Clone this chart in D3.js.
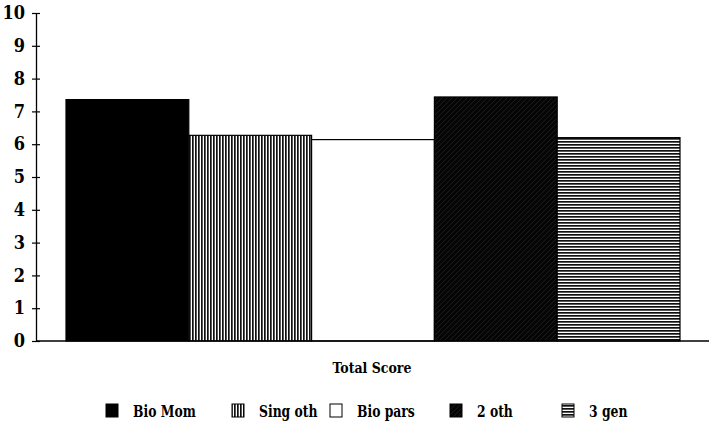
<!DOCTYPE html>
<html><head><meta charset="utf-8">
<script src="https://cdn.jsdelivr.net/npm/d3@7"></script>
<style>body{margin:0;background:#fff}svg{display:block}
svg text{font-family:"DejaVu Serif Condensed","DejaVu Serif",serif !important;font-stretch:condensed;font-weight:bold;fill:#000}</style>
</head><body>
<script>
const categories = ["Total Score"];
const seriesNames = ["Bio Mom", "Sing oth", "Bio pars", "2 oth", "3 gen"];
const seriesValues = [7.36, 6.27, 6.14, 7.44, 6.2];
const yTicks = [0,1,2,3,4,5,6,7,8,9,10];

const W = 709, H = 431;
const svg = d3.select("body").append("svg").attr("width", W).attr("height", H);
const defs = svg.append("defs");
const pv = defs.append("pattern").attr("id","pv").attr("patternUnits","userSpaceOnUse").attr("width",3).attr("height",3);
pv.append("rect").attr("width",3).attr("height",3).attr("fill","#fff");
pv.append("rect").attr("width",1.7).attr("height",3).attr("fill","#111");
const ph = defs.append("pattern").attr("id","ph").attr("patternUnits","userSpaceOnUse").attr("width",3).attr("height",3);
ph.append("rect").attr("width",3).attr("height",3).attr("fill","#fff");
ph.append("rect").attr("width",3).attr("height",1.7).attr("fill","#111");
const pd = defs.append("pattern").attr("id","pd").attr("patternUnits","userSpaceOnUse").attr("width",5).attr("height",5);
pd.append("rect").attr("width",5).attr("height",5).attr("fill","#050505");
pd.append("path").attr("d","M0,5 L5,0").attr("stroke","#333").attr("stroke-width",0.5);

const fills = ["#000", "url(#pv)", "#fff", "url(#pd)", "url(#ph)"];

const y = d3.scaleLinear().domain([0,10]).range([341, 13]);
const x0 = d3.scaleBand().domain(categories).range([66, 680]).padding(0);
const x1 = d3.scaleBand().domain(seriesNames).range([0, x0.bandwidth()]).padding(0);

const g = svg.append("g");
categories.forEach(c => {
  g.selectAll("rect.bar").data(seriesNames).enter().append("rect")
    .attr("x", d => x0(c) + x1(d))
    .attr("y", (d,i) => y(seriesValues[i]))
    .attr("width", x1.bandwidth())
    .attr("height", (d,i) => y(0) - y(seriesValues[i]))
    .attr("fill", (d,i) => fills[i])
    .attr("stroke", "#000").attr("stroke-width", 1.2);
});

svg.append("line").attr("x1", 36).attr("x2", 709).attr("y1", y(0)).attr("y2", y(0)).attr("stroke","#000").attr("stroke-width",1.3);

const ya = svg.append("g").attr("transform","translate(36,0)")
  .call(d3.axisLeft(y).tickValues(yTicks).tickFormat(d3.format("d")).tickSizeInner(0).tickSizeOuter(0));
ya.attr("font-family", null);
ya.select(".domain").attr("stroke","#000").attr("stroke-width",1.3);
ya.selectAll(".tick line").attr("x1",-4).attr("x2",4).attr("stroke","#000").attr("stroke-width",1.2);
ya.selectAll(".tick text").attr("x",-11).attr("font-size",18);

svg.selectAll("text.cat").data(categories).enter().append("text")
  .attr("transform", d => `translate(${x0(d) + x0.bandwidth()/2 - 1},373) scale(0.9,1)`)
  .attr("text-anchor","middle")
  .attr("font-size",15.5)
  .text(d => d);

const legX = [106, 232, 330, 450, 562];
const lg = svg.append("g");
seriesNames.forEach((s,i) => {
  lg.append("rect").attr("x", legX[i]).attr("y", 404).attr("width", 12).attr("height", 13)
    .attr("fill", fills[i]).attr("stroke","#000").attr("stroke-width",1);
  lg.append("text").attr("transform", `translate(${legX[i] + 27},417) scale(0.86,1)`)
    .attr("font-size",16)
    .text(s);
});
</script>
</body></html>
